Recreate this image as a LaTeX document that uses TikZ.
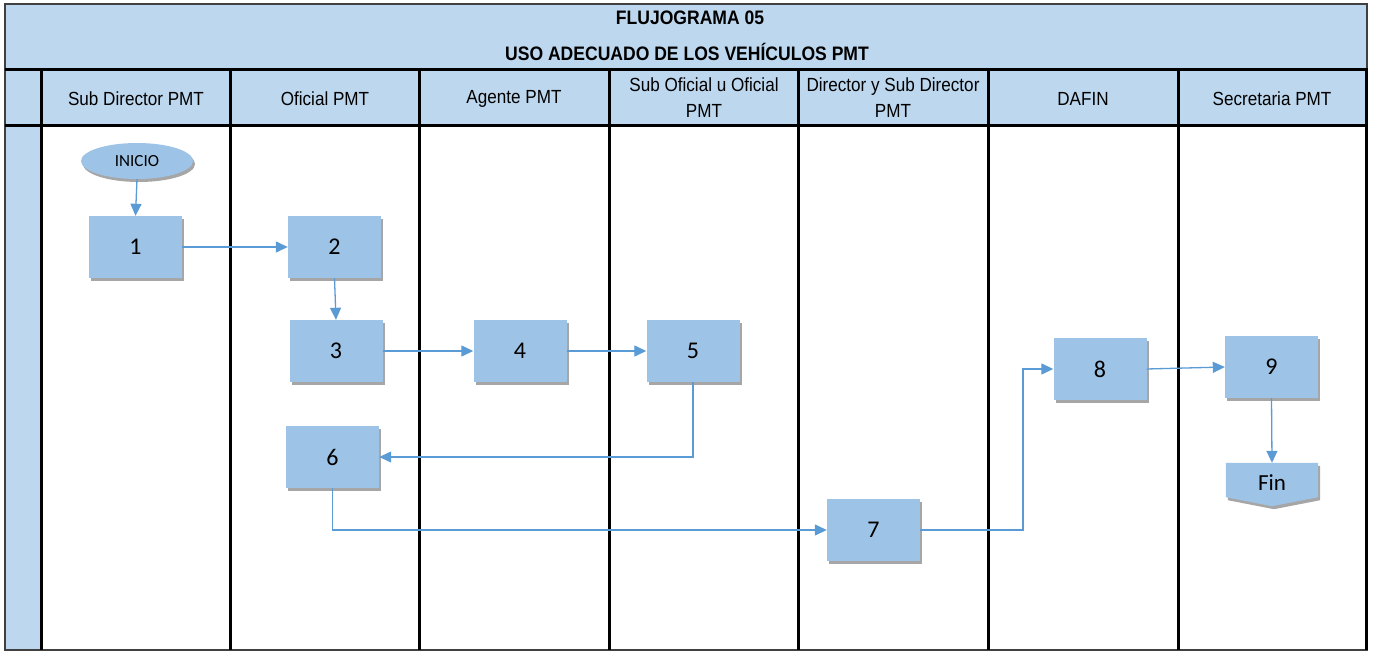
\documentclass[tikz,border=0pt]{standalone}
\usepackage{fontspec}
\setmainfont[FakeStretch=0.9]{Liberation Sans}
\newfontfamily\calib{Carlito}
\usetikzlibrary{arrows.meta,shapes.geometric,shadows}
\definecolor{bandblue}{HTML}{BDD7EE}
\definecolor{boxblue}{HTML}{9DC3E6}
\definecolor{arrowblue}{HTML}{5B9BD5}
\begin{document}
\begin{tikzpicture}[x=1pt,y=-1pt,
  thick line/.style={line width=3pt,black},
  hdr/.style={font=\fontsize{19}{26}\selectfont,align=center,inner sep=0},
  ttl/.style={font=\fontsize{19.5}{22}\selectfont\bfseries,inner sep=0},
  procbox/.style={fill=boxblue,minimum width=93pt,minimum height=62pt,inner sep=0,
    font=\calib\fontsize{24}{26}\selectfont,
    drop shadow={shadow xshift=2pt,shadow yshift=-3pt,opacity=0.35,fill=black}},
  flow/.style={draw=arrowblue,line width=1.3pt,-{Triangle[length=12pt,width=11pt]}},
  seg/.style={draw=arrowblue,line width=1.3pt}]
\useasboundingbox (0,0) rectangle (1373,652);
% backgrounds
\fill[bandblue] (5,4) rectangle (1367,126);
\fill[bandblue] (5,126) rectangle (41,650);
\draw[black!75,line width=1.3pt] (5,4) rectangle (1367,650);
% title
\node[ttl] (t1) at (690,18) {FLUJOGRAMA 05};
\node[ttl] (t2) at (687,52) {USO ADECUADO DE LOS VEHÍCULOS PMT};
% grid lines
\draw[thick line] (5,70) -- (1368,70);
\draw[thick line] (5,126) -- (1368,126);
\foreach \xx in {41,230,419,609,798,988,1178,1366}
  \draw[thick line] (\xx,70) -- (\xx,650);
% headers
\node[hdr] (h1) at (136,99) {Sub Director PMT};
\node[hdr] (h2) at (325,99) {Oficial PMT};
\node[hdr] (h3) at (514,99) {Agente PMT};
\node[hdr] (h4) at (704,98) {Sub Oficial u Oficial\\PMT};
\node[hdr] (h5) at (893,98) {Director y Sub Director\\PMT};
\node[hdr] (h6) at (1083,99) {DAFIN};
\node[hdr] (h7) at (1272,99) {Secretaria PMT};
% nodes
\node[ellipse,fill=boxblue,minimum width=112pt,minimum height=36pt,inner sep=0,
  font=\calib\fontsize{17}{18}\selectfont,
  drop shadow={shadow xshift=2pt,shadow yshift=-3pt,opacity=0.35,fill=black}] (ini) at (137,161) {INICIO};
\node[procbox] (b1) at (135.5,247) {1};
\node[procbox] (b2) at (334.5,247) {2};
\node[procbox] (b3) at (336,351) {3};
\node[procbox] (b4) at (520,351) {4};
\node[procbox] (b5) at (693,351) {5};
\node[procbox] (b6) at (332.5,457) {6};
\node[procbox] (b7) at (873.5,530) {7};
\node[procbox] (b8) at (1100,369) {8};
\node[procbox] (b9) at (1271.5,367) {9};
% Fin (off-page connector)
\node[minimum width=92pt,minimum height=34pt,inner sep=0] (fin) at (1272,480) {};
\fill[boxblue,drop shadow={shadow xshift=2pt,shadow yshift=-3pt,opacity=0.35,fill=black}]
  (fin.north west) -- (fin.north east) -- (fin.south east) -- ([yshift=-9pt]fin.south) -- (fin.south west) -- cycle;
\node[font=\calib\fontsize{23}{24}\selectfont,inner sep=0] (fintxt) at ([yshift=-3pt]fin.center) {Fin};
% connectors
\draw[flow] (ini.south) -- (b1.north);
\draw[flow] (b1.east) -- (b2.west);
\draw[flow] (b2.south) -- (b3.north);
\draw[flow] (b3.east) -- (b4.west);
\draw[flow] (b4.east) -- (b5.west);
\draw[flow] (b5.south) |- (b6.east);
\draw[flow] (b6.south) |- (b7.west);
\coordinate (k7) at (1023,530);
\draw[flow] (b7.east) -- (k7) |- (b8.west);
\draw[flow] (b8.east) -- (b9.west);
\draw[flow] (b9.south) -- (fin.north);
\end{tikzpicture}
\end{document}
